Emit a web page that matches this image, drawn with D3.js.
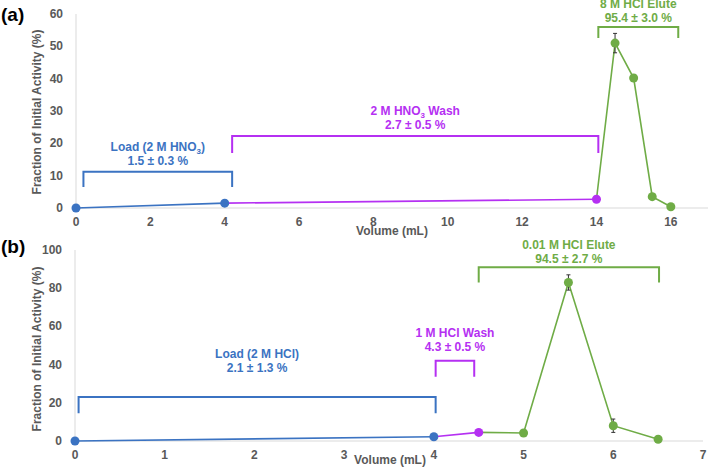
<!DOCTYPE html>
<html>
<head>
<meta charset="utf-8">
<script src="https://cdn.jsdelivr.net/npm/d3@7"></script>
<style>
  body { margin: 0; background: #fff; }
  text { font-family: "Liberation Sans", Arial, sans-serif; font-weight: bold; }
</style>
</head>
<body>
<div id="chart"></div>
<script>
// panel (a)
const volA = [0, 4, 14, 14.5, 15, 15.5, 16];
const actA = [0, 1.5, 2.7, 51, 40.2, 3.5, 0.4];
const errA = [0, 0, 0, 3, 0, 0.8, 0];
const ticksA_x = [0, 2, 4, 6, 8, 10, 12, 14, 16];
const ticksA_y = [0, 10, 20, 30, 40, 50, 60];

// panel (b)
const volB = [0, 4, 4.5, 5, 5.5, 6, 6.5];
const actB = [0, 2.2, 4.5, 4.2, 83, 8, 0.9];
const errB = [0, 0, 0, 0, 4, 3.5, 0];
const ticksB_x = [0, 1, 2, 3, 4, 5, 6, 7];
const ticksB_y = [0, 20, 40, 60, 80, 100];

// step segments: index ranges into the point arrays
const steps = ["load", "wash", "elute"];
const segIdx = { load: [0, 1], wash: [1, 2], elute: [2, 3, 4, 5, 6] };
const pointStep = ["load", "load", "wash", "elute", "elute", "elute", "elute"];

// brackets: [x0, x1, yTop, yBottom, labelY(2nd line), line1, line2]
const bracketsA = [
  { step: "load",  x0: 0.2,  x1: 4.2,  top: 11.2, bot: 6.5,  ly: 14.5, t1: ["Load (2 M HNO", "3", ")"], t2: "1.5 ± 0.3 %" },
  { step: "wash",  x0: 4.2,  x1: 14.05, top: 22.3, bot: 17,  ly: 25.7, t1: ["2 M HNO", "3", " Wash"], t2: "2.7 ± 0.5 %" },
  { step: "elute", x0: 14.05, x1: 16.2, top: 56,  bot: 52.6, ly: 58.8, t1: ["8 M HCl Elute"], t2: "95.4 ± 3.0 %" }
];
const bracketsB = [
  { step: "load",  x0: 0.04, x1: 4.02, top: 23, bot: 14.5, ly: 38.2, t1: ["Load (2 M HCl)"], t2: "2.1 ± 1.3 %" },
  { step: "wash",  x0: 4.02, x1: 4.45, top: 42, bot: 33.7, ly: 49.2, t1: ["1 M HCl Wash"], t2: "4.3 ± 0.5 %" },
  { step: "elute", x0: 4.5,  x1: 6.51, top: 91, bot: 83,   ly: 95.3, t1: ["0.01 M HCl Elute"], t2: "94.5 ± 2.7 %" }
];

const color = d3.scaleOrdinal()
  .domain(steps)
  .range(["#3b73c2", "#b530f2", "#6fac46"]);

const svg = d3.select("#chart")
  .append("svg")
  .attr("width", 708)
  .attr("height", 467);

function drawPanel(opt) {
  const g = svg.append("g");
  const x = d3.scaleLinear().domain(opt.xDomain).range(opt.xRange);
  const y = d3.scaleLinear().domain(opt.yDomain).range(opt.yRange);

  // y axis line + labels
  g.append("line")
    .attr("x1", x(0)).attr("x2", x(0))
    .attr("y1", y(opt.yDomain[1])).attr("y2", y(0))
    .attr("stroke", "#d9d9d9");
  g.selectAll(".ytick").data(opt.yTicks).enter().append("text")
    .attr("x", x(0) - 13).attr("y", d => y(d) + 4)
    .attr("text-anchor", "end").attr("font-size", 12).attr("fill", "#595959")
    .text(d => d);

  // x axis line + labels
  g.append("line")
    .attr("x1", x(0)).attr("x2", opt.xRange[1])
    .attr("y1", y(0)).attr("y2", y(0))
    .attr("stroke", "#d9d9d9");
  g.selectAll(".xtick").data(opt.xTicks).enter().append("text")
    .attr("x", d => x(d)).attr("y", y(0) + opt.xLabelDy)
    .attr("text-anchor", "middle").attr("font-size", 12).attr("fill", "#595959")
    .text(d => d);

  g.append("text")
    .attr("x", opt.xTitle[0]).attr("y", opt.xTitle[1])
    .attr("text-anchor", "middle").attr("font-size", 12).attr("fill", "#595959")
    .text("Volume (mL)");

  g.append("text")
    .attr("transform", "translate(" + 41 + "," + opt.yTitleY + ") rotate(-90)")
    .attr("text-anchor", "middle").attr("font-size", 12).attr("fill", "#595959")
    .text("Fraction of Initial Activity (%)");

  g.append("text")
    .attr("x", 1).attr("y", opt.panelY)
    .attr("font-size", 19).attr("fill", "#000")
    .text(opt.panel);

  // lines
  const line = d3.line().x(i => x(opt.vol[i])).y(i => y(opt.act[i]));
  steps.forEach(s => {
    g.append("path")
      .datum(segIdx[s])
      .attr("d", line)
      .attr("fill", "none")
      .attr("stroke", color(s))
      .attr("stroke-width", 1.6);
  });

  // error bars
  const idx = d3.range(opt.vol.length).filter(i => opt.err[i] > 0);
  const eb = g.selectAll(".err").data(idx).enter().append("g");
  eb.append("line")
    .attr("x1", i => x(opt.vol[i])).attr("x2", i => x(opt.vol[i]))
    .attr("y1", i => y(opt.act[i] + opt.err[i])).attr("y2", i => y(opt.act[i] - opt.err[i]))
    .attr("stroke", "#333").attr("stroke-width", 1);
  [1, -1].forEach(sg => {
    eb.append("line")
      .attr("x1", i => x(opt.vol[i]) - 2).attr("x2", i => x(opt.vol[i]) + 2)
      .attr("y1", i => y(opt.act[i] + sg * opt.err[i])).attr("y2", i => y(opt.act[i] + sg * opt.err[i]))
      .attr("stroke", "#333").attr("stroke-width", 1);
  });

  // points
  g.selectAll(".pt").data(d3.range(opt.vol.length)).enter().append("circle")
    .attr("cx", i => x(opt.vol[i])).attr("cy", i => y(opt.act[i]))
    .attr("r", 4.5)
    .attr("fill", i => color(pointStep[i]));

  // brackets
  opt.brackets.forEach(b => {
    const c = color(b.step);
    g.append("path")
      .attr("d", "M" + x(b.x0) + "," + y(b.bot) + "V" + y(b.top) + "H" + x(b.x1) + "V" + y(b.bot))
      .attr("fill", "none").attr("stroke", c).attr("stroke-width", 2);
    const cx = (x(b.x0) + x(b.x1)) / 2;
    const t = g.append("text")
      .attr("x", cx).attr("y", y(b.ly) - 10)
      .attr("text-anchor", "middle").attr("font-size", 12).attr("fill", c);
    b.t1.forEach((s, k) => {
      const ts = t.append("tspan").text(s);
      if (k === 1) ts.attr("font-size", 8).attr("dy", 3);
      if (k === 2) ts.attr("dy", -3);
    });
    g.append("text")
      .attr("x", cx).attr("y", y(b.ly) + 4)
      .attr("text-anchor", "middle").attr("font-size", 12).attr("fill", c)
      .text(b.t2);
  });
}

drawPanel({
  vol: volA, act: actA, err: errA,
  xDomain: [0, 17], xRange: [76, 708],
  yDomain: [0, 60], yRange: [208, 14],
  xTicks: ticksA_x, yTicks: ticksA_y,
  xLabelDy: 18, xTitle: [392, 235], yTitleY: 112,
  panel: "(a)", panelY: 21,
  brackets: bracketsA
});

drawPanel({
  vol: volB, act: actB, err: errB,
  xDomain: [0, 7], xRange: [75, 703],
  yDomain: [0, 100], yRange: [441, 250],
  xTicks: ticksB_x, yTicks: ticksB_y,
  xLabelDy: 18, xTitle: [390, 464], yTitleY: 349,
  panel: "(b)", panelY: 253,
  brackets: bracketsB
});
</script>
</body>
</html>
